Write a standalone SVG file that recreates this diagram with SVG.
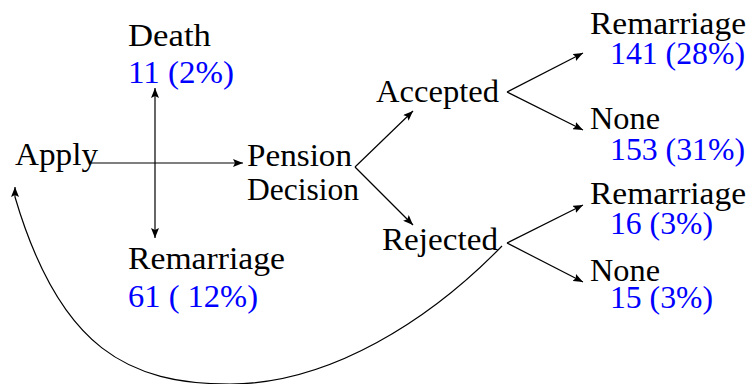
<svg xmlns="http://www.w3.org/2000/svg" width="753" height="384" viewBox="0 0 753 384">
<style>
text{font-family:"Liberation Serif","DejaVu Serif",serif;font-size:31px;fill:#000}
.n{fill:#0000ff}
.c path,.c line{stroke:#000;stroke-width:1.2;fill:none}
</style>
<defs>
<marker id="ah" viewBox="0 0 10 8" refX="10" refY="4" markerWidth="10" markerHeight="8" markerUnits="userSpaceOnUse" orient="auto-start-reverse">
<path d="M0,0 L10,4 L0,8 L2,4 Z" fill="#000"/>
</marker>
</defs>
<g class="c" id="connectors">
<line x1="90" y1="163" x2="243" y2="163" marker-end="url(#ah)"/>
<line x1="155" y1="88" x2="155" y2="238" marker-start="url(#ah)" marker-end="url(#ah)"/>
<line x1="355" y1="167" x2="413" y2="111" marker-end="url(#ah)"/>
<line x1="355" y1="167" x2="413" y2="225" marker-end="url(#ah)"/>
<line x1="507" y1="92" x2="583" y2="53" marker-end="url(#ah)"/>
<line x1="507" y1="92" x2="583" y2="130" marker-end="url(#ah)"/>
<line x1="507" y1="243" x2="583" y2="205" marker-end="url(#ah)"/>
<line x1="507" y1="243" x2="583" y2="282" marker-end="url(#ah)"/>
<path d="M 502 246 C 430 320, 330 384, 230 384 C 130 384, 60 350, 15 197 L 15 187" stroke-width="1" marker-end="url(#ah)"/>
</g>
<g id="apply"><text x="15" y="165" textLength="83" lengthAdjust="spacingAndGlyphs">Apply</text></g>
<g id="death"><text x="128" y="46" textLength="83" lengthAdjust="spacingAndGlyphs">Death</text><text class="n" x="128" y="83" textLength="106" lengthAdjust="spacingAndGlyphs">11 (2%)</text></g>
<g id="remarriage-early"><text x="128" y="269" textLength="157" lengthAdjust="spacingAndGlyphs">Remarriage</text><text class="n" x="128" y="307" textLength="130" lengthAdjust="spacingAndGlyphs">61 ( 12%)</text></g>
<g id="pension"><text x="247" y="166" textLength="105" lengthAdjust="spacingAndGlyphs">Pension</text><text x="247" y="200" textLength="112" lengthAdjust="spacingAndGlyphs">Decision</text></g>
<g id="accepted"><text x="376" y="102" textLength="123" lengthAdjust="spacingAndGlyphs">Accepted</text></g>
<g id="rejected"><text x="382" y="250" textLength="116" lengthAdjust="spacingAndGlyphs">Rejected</text></g>
<g id="acc-remarriage"><text x="590" y="34" textLength="156" lengthAdjust="spacingAndGlyphs">Remarriage</text><text class="n" x="610" y="64" textLength="135" lengthAdjust="spacingAndGlyphs">141 (28%)</text></g>
<g id="acc-none"><text x="590" y="129" textLength="70" lengthAdjust="spacingAndGlyphs">None</text><text class="n" x="610" y="160" textLength="135" lengthAdjust="spacingAndGlyphs">153 (31%)</text></g>
<g id="rej-remarriage"><text x="590" y="204" textLength="156" lengthAdjust="spacingAndGlyphs">Remarriage</text><text class="n" x="610" y="234" textLength="103" lengthAdjust="spacingAndGlyphs">16 (3%)</text></g>
<g id="rej-none"><text x="590" y="281" textLength="70" lengthAdjust="spacingAndGlyphs">None</text><text class="n" x="610" y="308" textLength="103" lengthAdjust="spacingAndGlyphs">15 (3%)</text></g>
</svg>
